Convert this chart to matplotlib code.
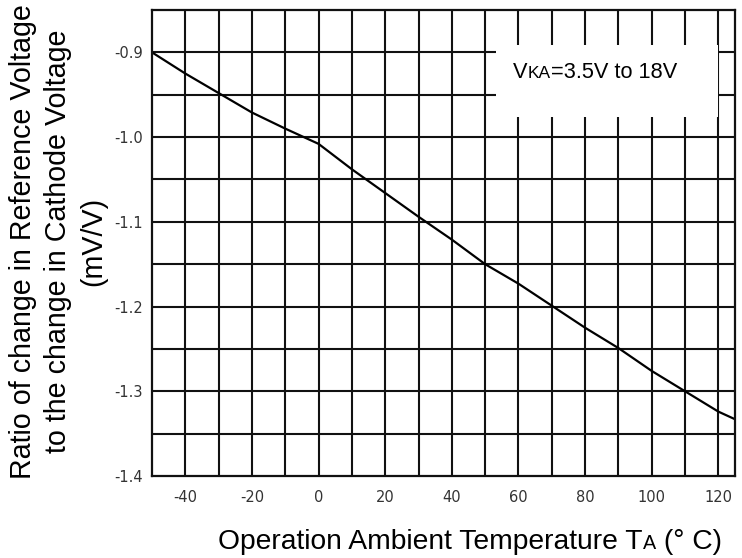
import matplotlib
matplotlib.use("Agg")
import matplotlib.pyplot as plt
from matplotlib.transforms import IdentityTransform
from matplotlib.patches import Rectangle
import numpy as np

# Temperature coefficient curve: ratio of delta Vref to delta Vka vs ambient temperature
temperature = [-50, -40, -30, -20, -10, 0, 10, 20, 30, 40, 50, 60, 70, 80, 90, 100, 110, 120, 125]
ratio = [-0.900, -0.925, -0.948, -0.971, -0.990, -1.008, -1.038, -1.066, -1.094, -1.121,
         -1.150, -1.173, -1.199, -1.225, -1.249, -1.276, -1.300, -1.324, -1.333]

x_ticks = [-40, -20, 0, 20, 40, 60, 80, 100, 120]
x_tick_labels = ["-40", "-20", "0", "20", "40", "60", "80", "100", "120"]
y_ticks = [-1.4, -1.3, -1.2, -1.1, -1.0, -0.9]
y_tick_labels = ["-1.4", "-1.3", "-1.2", "-1.1", "-1.0", "-0.9"]

x_grid = np.arange(-40, 121, 10)
y_grid = np.round(np.arange(-1.35, -0.86, 0.05), 2)

plt.rcParams['font.family'] = ['Liberation Sans', 'DejaVu Sans']

W, H = 742, 558
fig = plt.figure(figsize=(W / 100, H / 100), dpi=100)
ax = fig.add_axes([152 / W, 1 - 476 / H, (735 - 152) / W, (476 - 10) / H])
ax.set_xlim(-50, 125)
ax.set_ylim(-1.4, -0.85)

ink = '#111111'
for gx in x_grid:
    ax.axvline(gx, color=ink, lw=1.5, zorder=1)
for gy in y_grid:
    ax.axhline(gy, color=ink, lw=1.5, zorder=1)

# white label box sitting over the grid
ax.add_patch(Rectangle((53.2, -0.976), 120 - 53.2, 0.085, facecolor='white',
                       edgecolor='none', zorder=2))

ax.plot(temperature, ratio, color='black', lw=1.6, zorder=3)

for sp in ax.spines.values():
    sp.set_color(ink)
    sp.set_linewidth(1.6)
    sp.set_zorder(4)

ax.set_xticks(x_ticks)
ax.set_xticklabels(x_tick_labels)
ax.set_yticks(y_ticks)
ax.set_yticklabels(y_tick_labels)
ax.tick_params(axis='both', length=0, labelcolor='#333333', labelsize=10.5)
ax.tick_params(axis='x', pad=10)
ax.tick_params(axis='y', pad=6.5)
for lab in ax.get_xticklabels() + ax.get_yticklabels():
    lab.set_family('DejaVu Sans')

fig.text(58 / W, 1 - 241.5 / H,
         "Ratio of change in Reference Voltage\nto the change in Cathode Voltage\n(mV/V)",
         rotation=90, ha='center', va='center', fontsize=20.6, linespacing=1.33,
         multialignment='center', color='black')

renderer = fig.canvas.get_renderer()


def draw_runs(x_px, y_px, runs):
    """Draw text pieces of mixed size side by side on a shared baseline (pixel coords)."""
    x = x_px
    for s, size in runs:
        t = fig.text(x, y_px, s, transform=IdentityTransform(), fontsize=size,
                     ha='left', va='baseline', color='black')
        x = t.get_window_extent(renderer).x1


draw_runs(218, H - 549, [("Operation Ambient Temperature T", 20.3), ("A", 14.2), (" (° C)", 20.3)])
draw_runs(513, H - 78, [("V", 15.7), ("KA", 12.5), ("=3.5V to 18V", 15.7)])

fig.savefig("out.png", dpi=100)
